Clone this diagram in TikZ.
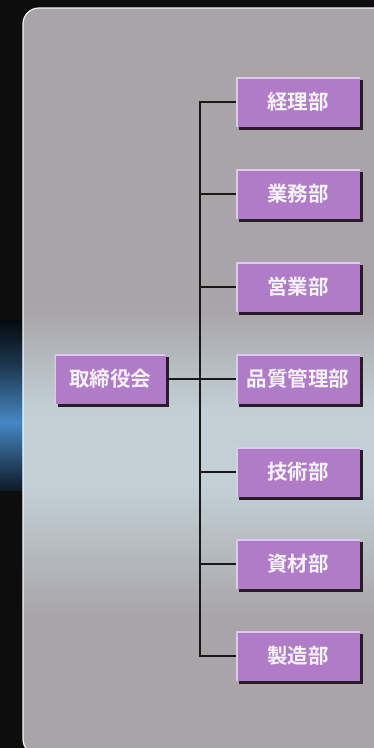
\documentclass[tikz,border=0pt]{standalone}
\usepackage{fontspec}
\newfontfamily\jpfont[BoldFont={Noto Sans CJK JP Bold}]{Noto Sans CJK JP}
\usetikzlibrary{shadows}
\definecolor{panelgray}{RGB}{168,164,168}
\definecolor{bandlight}{RGB}{194,208,214}
\definecolor{glowblue}{RGB}{70,135,195}
\definecolor{deptfill}{RGB}{176,124,200}
\definecolor{deptedge}{RGB}{222,200,236}
\definecolor{deptshade}{RGB}{40,28,40}
\definecolor{depttext}{RGB}{248,242,250}
\pgfdeclareverticalshading{panelband}{100bp}{color(0bp)=(panelgray); color(34bp)=(panelgray); color(43bp)=(bandlight); color(48bp)=(bandlight); color(55bp)=(panelgray); color(100bp)=(panelgray)}
\pgfdeclareverticalshading{sideglow}{100bp}{color(0bp)=(black); color(25bp)=(black!80!glowblue); color(45bp)=(glowblue); color(62bp)=(black!60!glowblue); color(78bp)=(black); color(100bp)=(black)}
\tikzset{
  deptbox/.style={rectangle, fill=deptfill, text=depttext, minimum width=124pt, minimum height=50pt,
    inner sep=0pt, font=\jpfont\bfseries\fontsize{20.5}{22}\selectfont,
    drop shadow={shadow xshift=3pt, shadow yshift=-3pt, fill=deptshade, opacity=1},
    path picture={\draw[deptedge, line width=3pt] (path picture bounding box.south west) -- (path picture bounding box.north west) -- (path picture bounding box.north east);}},
  boardbox/.style={deptbox, minimum width=111pt},
  orgline/.style={draw=black!90, line width=2.2pt}
}
\begin{document}
\begin{tikzpicture}[x=1pt,y=-1pt]
  \useasboundingbox (0,0) rectangle (374,748);
  % background and panel
  \fill[black!95] (0,0) rectangle (374,748);
  \shade[shading=sideglow] (0,320) rectangle (23,490);
  \shade[shading=panelband, rounded corners=16pt] (23,8) rectangle (395,755);
  \draw[white!90!panelgray, line width=1.2pt, rounded corners=16pt] (23,8) rectangle (395,755);

  % board
  \node[boardbox] (board) at (110,379) {取締役会};

  % departments
  \node[deptbox] (keiri) at (298,102) {経理部};
  \node[deptbox] (gyomu) at (298,194) {業務部};
  \node[deptbox] (eigyo) at (298,287) {営業部};
  \node[deptbox] (hinshitsu) at (298,379) {品質管理部};
  \node[deptbox] (gijutsu) at (298,472) {技術部};
  \node[deptbox] (shizai) at (298,564) {資材部};
  \node[deptbox] (seizo) at (298,656) {製造部};

  % connectors
  \coordinate (spine) at (200,379);
  \draw[orgline] (board.east) -- (hinshitsu.west);
  \draw[orgline] (keiri.west) -| (spine) |- (seizo.west);
  \draw[orgline] (gyomu.west) -- (gyomu.west -| spine);
  \draw[orgline] (eigyo.west) -- (eigyo.west -| spine);
  \draw[orgline] (gijutsu.west) -- (gijutsu.west -| spine);
  \draw[orgline] (shizai.west) -- (shizai.west -| spine);
\end{tikzpicture}
\end{document}
